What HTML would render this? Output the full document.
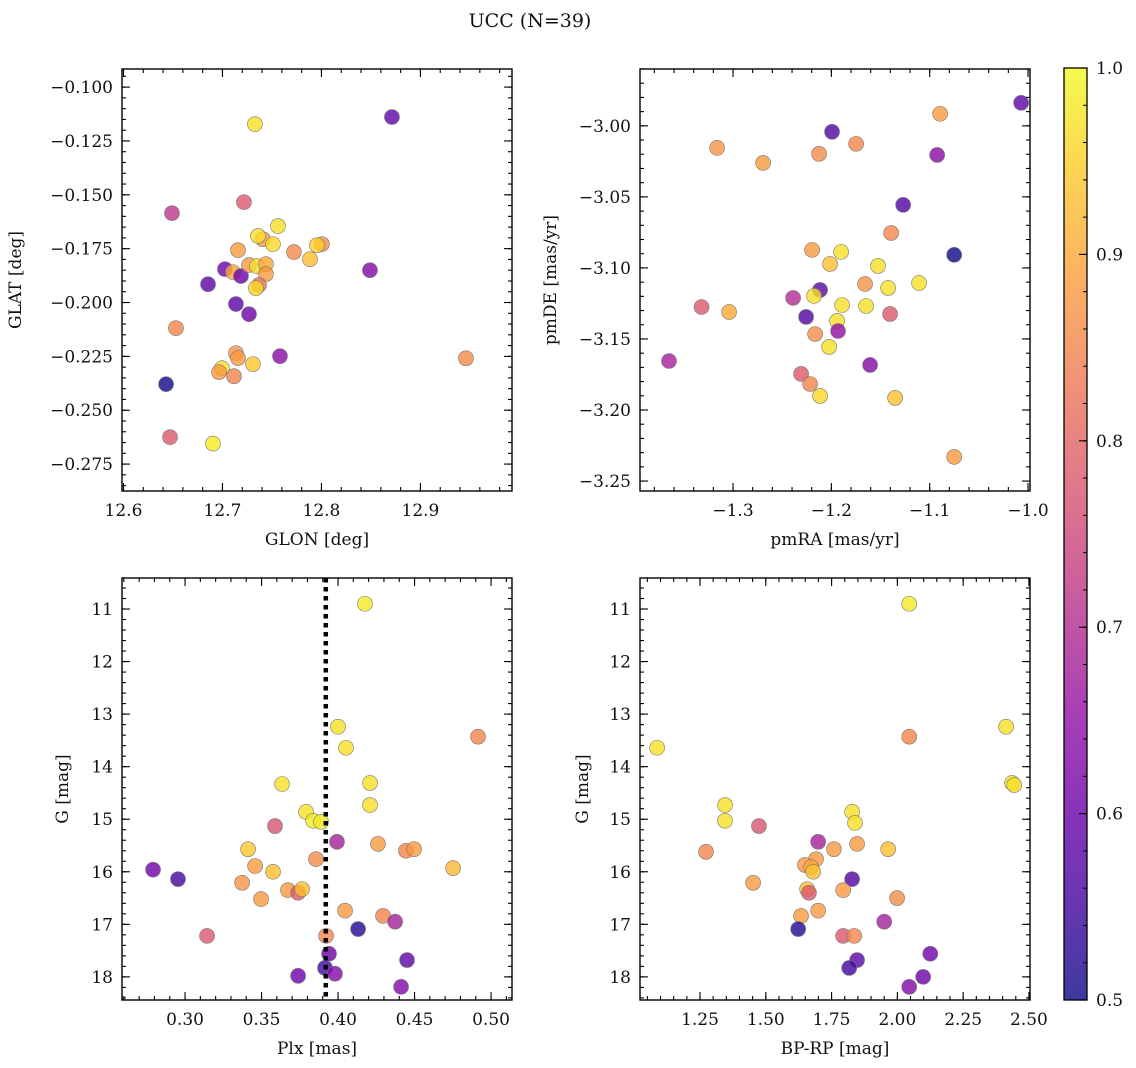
<!DOCTYPE html>
<html><head><meta charset="utf-8">
<style>
html,body{margin:0;padding:0;background:#fff;}
svg{display:block;font-family:"DejaVu Serif","Liberation Serif",serif;}
</style></head>
<body>
<svg id="fig" width="1136" height="1068" viewBox="0 0 1136 1068" xmlns="http://www.w3.org/2000/svg">
<text x="530" y="27" font-size="19" text-anchor="middle" fill="#111">UCC (N=39)</text>
</svg>
<script>
// ---- Panel 1: GLON vs GLAT ----
const p1Glon=[12.7217,12.7561,12.7409,12.7359,12.7510,12.7157,12.7722,12.8005,12.7955,12.7884,12.7025,12.7106,12.7187,12.7268,12.7348,12.7439,12.7439,12.6854,12.7369,12.7338,12.7136,12.7268,12.7581,12.7136,12.7157,12.7308,12.6995,12.6965,12.7116,12.8712,12.7328,12.649,12.653,12.643,12.647,12.6904,12.946,12.849];
const p1Glat=[-0.1534,-0.1645,-0.1706,-0.1691,-0.1729,-0.1757,-0.1766,-0.1729,-0.1734,-0.1799,-0.1845,-0.1859,-0.1877,-0.1826,-0.1831,-0.1822,-0.1868,-0.1915,-0.1919,-0.1933,-0.2007,-0.2054,-0.2249,-0.2235,-0.2258,-0.2286,-0.2305,-0.2323,-0.2342,-0.1139,-0.1172,-0.1585,-0.2119,-0.2379,-0.2625,-0.2655,-0.2259,-0.1850];
const p1Prob=[0.78,0.97,0.88,0.97,0.96,0.88,0.86,0.86,0.95,0.93,0.60,0.90,0.60,0.88,0.97,0.90,0.88,0.58,0.82,0.96,0.58,0.60,0.64,0.87,0.88,0.94,0.97,0.88,0.85,0.58,0.97,0.72,0.85,0.50,0.78,0.98,0.86,0.63];
// ---- Panel 2: pmRA vs pmDE ----
const p2Pmra=[-1.1392,-1.2196,-1.1901,-1.2013,-1.1525,-1.1657,-1.1423,-1.1108,-1.2115,-1.2389,-1.2176,-1.1891,-1.1647,-1.2257,-1.1403,-1.1942,-1.1932,-1.2165,-1.2023,-1.1606,-1.2308,-1.2216,-1.2115,-1.1352,-1.007,-1.0894,-1.1993,-1.3162,-1.1748,-1.2694,-1.2125,-1.0924,-1.127,-1.0751,-1.3651,-1.3320,-1.304,-1.0751];
const p2Pmde=[-3.0754,-3.0873,-3.0887,-3.0972,-3.0986,-3.1113,-3.1141,-3.1106,-3.1155,-3.1211,-3.1197,-3.1261,-3.1268,-3.1345,-3.1324,-3.1373,-3.1444,-3.1465,-3.1556,-3.1683,-3.1746,-3.1817,-3.1901,-3.1915,-2.9838,-2.9915,-3.0042,-3.0155,-3.0127,-3.0261,-3.0197,-3.0205,-3.0556,-3.0908,-3.1655,-3.1275,-3.1310,-3.2330];
const p2Prob=[0.85,0.88,0.97,0.93,0.97,0.87,0.97,0.97,0.58,0.70,0.97,0.97,0.97,0.57,0.78,0.97,0.65,0.86,0.97,0.63,0.78,0.85,0.96,0.93,0.58,0.88,0.57,0.87,0.85,0.88,0.86,0.64,0.57,0.50,0.68,0.78,0.90,0.88];
// ---- Panel 3: Plx vs G ----
const p3Plx=[0.3634,0.4209,0.4209,0.3791,0.3837,0.3889,0.3588,0.3993,0.3412,0.4261,0.4444,0.4497,0.3856,0.3458,0.3575,0.4752,0.2791,0.2954,0.3373,0.3673,0.3739,0.3765,0.3497,0.4046,0.4294,0.4373,0.4131,0.3144,0.3922,0.3941,0.4451,0.3915,0.3980,0.3739,0.4412,0.4176,0.4000,0.4052,0.4915];
const p3G=[14.33,14.31,14.73,14.86,15.03,15.05,15.13,15.43,15.57,15.47,15.60,15.57,15.76,15.89,16.00,15.93,15.96,16.14,16.21,16.35,16.40,16.33,16.52,16.74,16.84,16.95,17.09,17.22,17.22,17.56,17.68,17.83,17.94,17.98,18.19,10.90,13.24,13.64,13.43];
const p3Prob=[0.97,0.97,0.97,0.97,0.98,0.98,0.77,0.68,0.94,0.88,0.85,0.88,0.86,0.88,0.93,0.92,0.60,0.55,0.87,0.88,0.78,0.93,0.88,0.88,0.85,0.68,0.52,0.78,0.85,0.60,0.58,0.55,0.63,0.60,0.63,0.98,0.97,0.97,0.85];
const p3PlxRef=[0.392];
// ---- Panel 4: BP-RP vs G ----
const p4Bprp=[2.436,2.444,1.345,1.345,1.474,1.828,1.839,1.699,1.273,1.759,1.847,1.965,1.691,1.649,1.672,1.680,1.452,1.828,1.657,1.664,1.794,1.999,1.699,1.634,1.950,1.623,1.794,1.836,2.125,1.847,1.817,2.098,2.045,1.087,2.413,2.045,2.045];
const p4G=[14.31,14.35,14.73,15.03,15.13,14.86,15.07,15.43,15.62,15.57,15.47,15.57,15.76,15.87,15.91,16.00,16.21,16.14,16.33,16.40,16.35,16.50,16.74,16.84,16.95,17.09,17.22,17.22,17.56,17.68,17.83,18.00,18.19,13.64,13.24,10.90,13.43];
const p4Prob=[0.97,0.97,0.97,0.97,0.77,0.97,0.97,0.68,0.85,0.88,0.88,0.93,0.88,0.88,0.90,0.93,0.88,0.57,0.93,0.78,0.88,0.86,0.88,0.88,0.68,0.52,0.78,0.85,0.60,0.58,0.55,0.60,0.63,0.97,0.97,0.98,0.85];
// ---- Tick label arrays ----
const p1XTicks=[12.6,12.7,12.8,12.9];
const p1YTicks=[-0.100,-0.125,-0.150,-0.175,-0.200,-0.225,-0.250,-0.275];
const p2XTicks=[-1.3,-1.2,-1.1,-1.0];
const p2YTicks=[-3.00,-3.05,-3.10,-3.15,-3.20,-3.25];
const p3XTicks=[0.30,0.35,0.40,0.45,0.50];
const gTicks=[11,12,13,14,15,16,17,18];
const p4XTicks=[1.25,1.50,1.75,2.00,2.25,2.50];
const cbTicks=[0.5,0.6,0.7,0.8,0.9,1.0];

const NS="http://www.w3.org/2000/svg";
const svg=document.getElementById('fig');
function mk(tag,attrs,parent){const e=document.createElementNS(NS,tag);for(const k in attrs)e.setAttribute(k,attrs[k]);(parent||svg).appendChild(e);return e;}
const stops=[[13,8,135],[65,4,157],[106,0,168],[143,13,164],[177,42,144],[204,71,120],[225,100,98],[242,132,75],[252,166,54],[252,206,37],[240,249,33]];
function plasma(t){t=Math.max(0,Math.min(1,t));const f=t*10,i=Math.min(9,Math.floor(f)),r=f-i;const a=stops[i],b=stops[i+1];return 'rgb('+a.map((v,k)=>Math.round(v+(b[k]-v)*r)).join(',')+')';}
function fmt(v,d){return (v<0?'\u2212':'')+Math.abs(v).toFixed(d);}

function panel(cfg){
  const g=mk('g',{});
  
  
  const {x,y,w,h}=cfg.box;
  const sx=v=>x+(v-cfg.xd[0])/(cfg.xd[1]-cfg.xd[0])*w;
  const sy=v=>y+(v-cfg.yTop)/(cfg.yBot-cfg.yTop)*h;
  const pg=mk('g',{},g);
  
  
  for(let i=0;i<cfg.xs.length;i++){
    const c=mk('circle',{cx:sx(cfg.xs[i]),cy:sy(cfg.ys[i]),r:7.5,fill:plasma((cfg.cs[i]-0.5)/0.5),'fill-opacity':0.8,stroke:'#777','stroke-width':0.6},pg);
    
    
  }
  if(cfg.extra)cfg.extra(g,sx,sy);
  const fr=mk('rect',{x:x,y:y,width:w,height:h,fill:'none',stroke:'#000','stroke-width':1.4},g);
  
  
  const tg=mk('g',{stroke:'#000','stroke-width':1.1},g);
  function xt(v,len){const px=sx(v);if(px<x-0.5||px>x+w+0.5)return;mk('line',{x1:px,y1:y+h,x2:px,y2:y+h-len},tg);mk('line',{x1:px,y1:y,x2:px,y2:y+len},tg);}
  function yt(v,len){const py=sy(v);if(py<y-0.5||py>y+h+0.5)return;mk('line',{x1:x,y1:py,x2:x+len,y2:py},tg);mk('line',{x1:x+w,y1:py,x2:x+w-len,y2:py},tg);}
  const xlo=Math.min(...cfg.xd),xhi=Math.max(...cfg.xd);
  for(let k=Math.ceil(xlo/cfg.xm-1e-9);k*cfg.xm<=xhi+1e-9;k++)xt(k*cfg.xm,4);
  const ylo=Math.min(cfg.yTop,cfg.yBot),yhi=Math.max(cfg.yTop,cfg.yBot);
  for(let k=Math.ceil(ylo/cfg.ym-1e-9);k*cfg.ym<=yhi+1e-9;k++)yt(k*cfg.ym,4);
  cfg.xt.forEach(v=>{xt(v,8);const t=mk('text',{x:sx(v),y:y+h+25,'font-size':17,'text-anchor':'middle',fill:'#111'},g);t.textContent=fmt(v,cfg.xdec);});
  cfg.yt.forEach(v=>{yt(v,8);const t=mk('text',{x:x-9,y:sy(v)+6,'font-size':17,'text-anchor':'end',fill:'#111'},g);t.textContent=fmt(v,cfg.ydec);});
  const xl=mk('text',{x:x+w/2,y:y+h+54,'font-size':17,'text-anchor':'middle',fill:'#111'},g);
  xl.textContent=cfg.xlabel;
  
  
  const yl=mk('text',{x:cfg.ylx,y:y+h/2,'font-size':17,'text-anchor':'middle',fill:'#111',transform:'rotate(-90 '+cfg.ylx+' '+(y+h/2)+')'},g);
  yl.textContent=cfg.ylabel;
  
  
}

panel({name:'glon-glat-panel',box:{x:122,y:69,w:390,h:422},xd:[12.5985,12.9925],yTop:-0.0916,yBot:-0.2875,xs:p1Glon,ys:p1Glat,cs:p1Prob,xt:p1XTicks,yt:p1YTicks,xm:0.02,ym:0.005,xdec:1,ydec:3,xlabel:'GLON [deg]',ylabel:'GLAT [deg]',ylx:21});
panel({name:'pm-panel',box:{x:640,y:69,w:390,h:422},xd:[-1.3946,-0.998],yTop:-2.960,yBot:-3.257,xs:p2Pmra,ys:p2Pmde,cs:p2Prob,xt:p2XTicks,yt:p2YTicks,xm:0.02,ym:0.01,xdec:1,ydec:2,xlabel:'pmRA [mas/yr]',ylabel:'pmDE [mas/yr]',ylx:556});
panel({name:'plx-g-panel',box:{x:122,y:578,w:390,h:422},xd:[0.2588,0.5137],yTop:10.41,yBot:18.44,xs:p3Plx,ys:p3G,cs:p3Prob,xt:p3XTicks,yt:gTicks,xm:0.01,ym:0.2,xdec:2,ydec:0,xlabel:'Plx [mas]',ylabel:'G [mag]',ylx:68,
  extra:(g,sx,sy)=>{p3PlxRef.forEach(v=>{const l=mk('line',{x1:sx(v),y1:578,x2:sx(v),y2:1000,stroke:'#000','stroke-width':4.5,'stroke-dasharray':'4.5,4.5'},g);});}});
panel({name:'cmd-panel',box:{x:640,y:578,w:390,h:422},xd:[1.022,2.504],yTop:10.41,yBot:18.44,xs:p4Bprp,ys:p4G,cs:p4Prob,xt:p4XTicks,yt:gTicks,xm:0.05,ym:0.2,xdec:2,ydec:0,xlabel:'BP-RP [mag]',ylabel:'G [mag]',ylx:588});

(function(){
  const cx=1064,cy=68,cw=23,ch=932;
  const g=mk('g',{});
  
  
  const defs=mk('defs',{},g);
  const lg=mk('linearGradient',{id:'cbg',x1:0,y1:1,x2:0,y2:0},defs);
  for(let i=0;i<=20;i++)mk('stop',{offset:i/20,'stop-color':plasma(i/20)},lg);
  mk('rect',{x:cx,y:cy,width:cw,height:ch,fill:'url(#cbg)','fill-opacity':0.8},g);
  mk('rect',{x:cx,y:cy,width:cw,height:ch,fill:'none',stroke:'#000','stroke-width':1.3},g);
  const s=v=>cy+(1.0-v)/0.5*ch;
  for(let k=25;k<=50;k++){const py=s(k*0.02);mk('line',{x1:cx+cw,y1:py,x2:cx+cw-4,y2:py,stroke:'#000','stroke-width':1},g);}
  cbTicks.forEach(v=>{const py=s(v);mk('line',{x1:cx+cw,y1:py,x2:cx+cw-8,y2:py,stroke:'#000','stroke-width':1.1},g);
    const t=mk('text',{x:cx+cw+9,y:py+6,'font-size':17,fill:'#111'},g);t.textContent=v.toFixed(1);
    
    });
})();
</script>
</body></html>
